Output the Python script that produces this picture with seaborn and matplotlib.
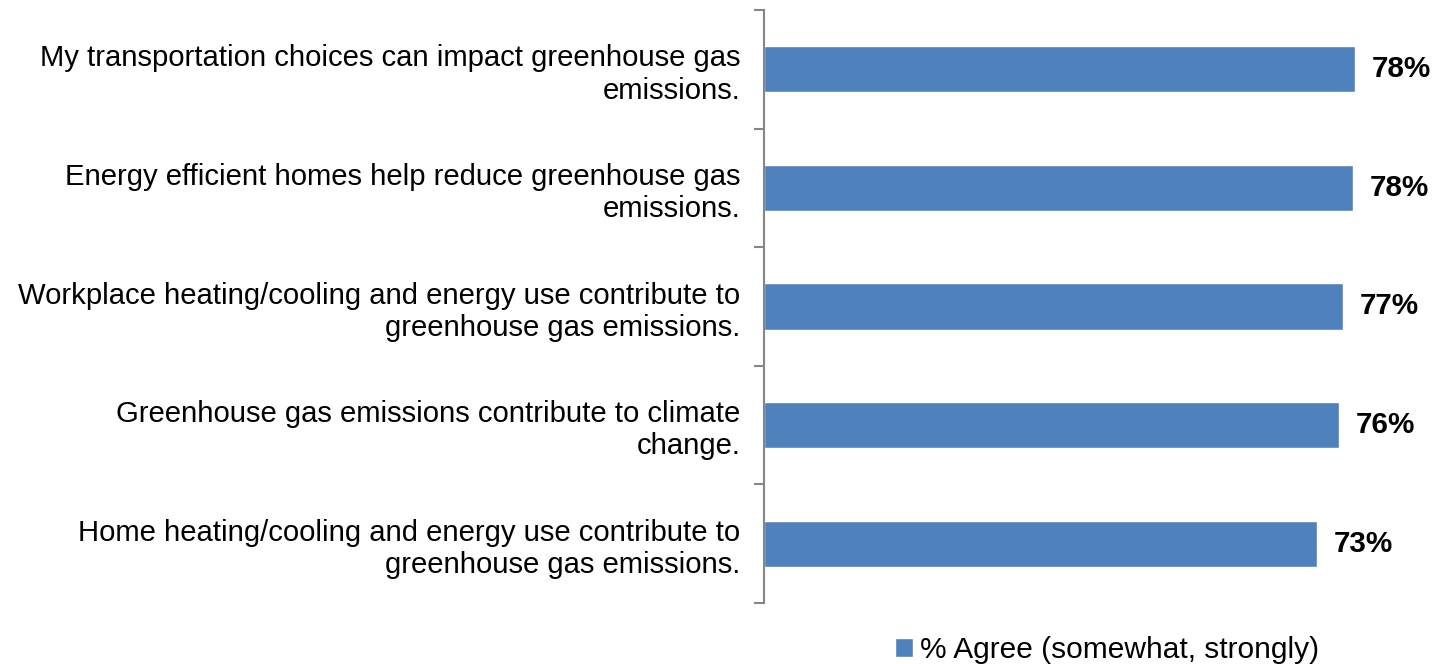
import matplotlib
matplotlib.use("Agg")
import matplotlib.pyplot as plt
import numpy as np
import pandas as pd
import seaborn as sns
from matplotlib.patches import Patch

statements = [
    "My transportation choices can impact greenhouse gas\nemissions.",
    "Energy efficient homes help reduce greenhouse gas\nemissions.",
    "Workplace heating/cooling and energy use contribute to\ngreenhouse gas emissions.",
    "Greenhouse gas emissions contribute to climate\nchange.",
    "Home heating/cooling and energy use contribute to\ngreenhouse gas emissions.",
]
agree_pct = [78.4, 78.1, 76.8, 76.3, 73.3]
series_name = "% Agree (somewhat, strongly)"
bar_color = "#4F81BD"
axis_gray = "#868686"

sns.set_style("white")
plt.rcParams["font.family"] = ["Liberation Sans", "DejaVu Sans"]
plt.rcParams["text.color"] = "black"

df = pd.DataFrame({"statement": statements, "agree": agree_pct})

fig = plt.figure(figsize=(14.35, 6.64), dpi=100)
ax = fig.add_axes([764 / 1435, 1 - 603 / 664, 1 - 764 / 1435, (603 - 10) / 664])

sns.barplot(data=df, x="agree", y="statement", color=bar_color, saturation=1,
            width=0.39, orient="h", ax=ax)

ax.set_xlim(0, 89.0)
ax.set_ylim(len(statements) - 0.5, -0.5)
ax.set_xlabel("")
ax.set_ylabel("")

# value labels
for container in ax.containers:
    ax.bar_label(container, labels=[f"{v:.0f}%" for v in agree_pct],
                 padding=12, fontsize=21.3, fontweight="bold", color="black")

# spines and ticks
for side in ["top", "right", "bottom"]:
    ax.spines[side].set_visible(False)
ax.spines["left"].set_color(axis_gray)
ax.spines["left"].set_linewidth(1.5)
ax.set_xticks([])
ax.tick_params(axis="y", which="major", left=True, length=0, pad=17,
               labelsize=21.1, labelcolor="black")
for lbl in ax.get_yticklabels():
    lbl.set_horizontalalignment("right")
    lbl.set_multialignment("right")
ax.set_yticks(np.arange(len(statements) + 1) - 0.5, minor=True)
ax.tick_params(axis="y", which="minor", left=True, length=7, width=1.5,
               color=axis_gray, direction="out")

fig.legend(handles=[Patch(facecolor=bar_color, label=series_name)],
           loc="center left", bbox_to_anchor=(895 / 1435, 1 - 650 / 664),
           frameon=False, fontsize=21.5, labelcolor="black",
           handlelength=0.6, handleheight=0.6,
           handletextpad=0.25, borderpad=0, borderaxespad=0)

fig.savefig("out.png", dpi=100, facecolor="white")
